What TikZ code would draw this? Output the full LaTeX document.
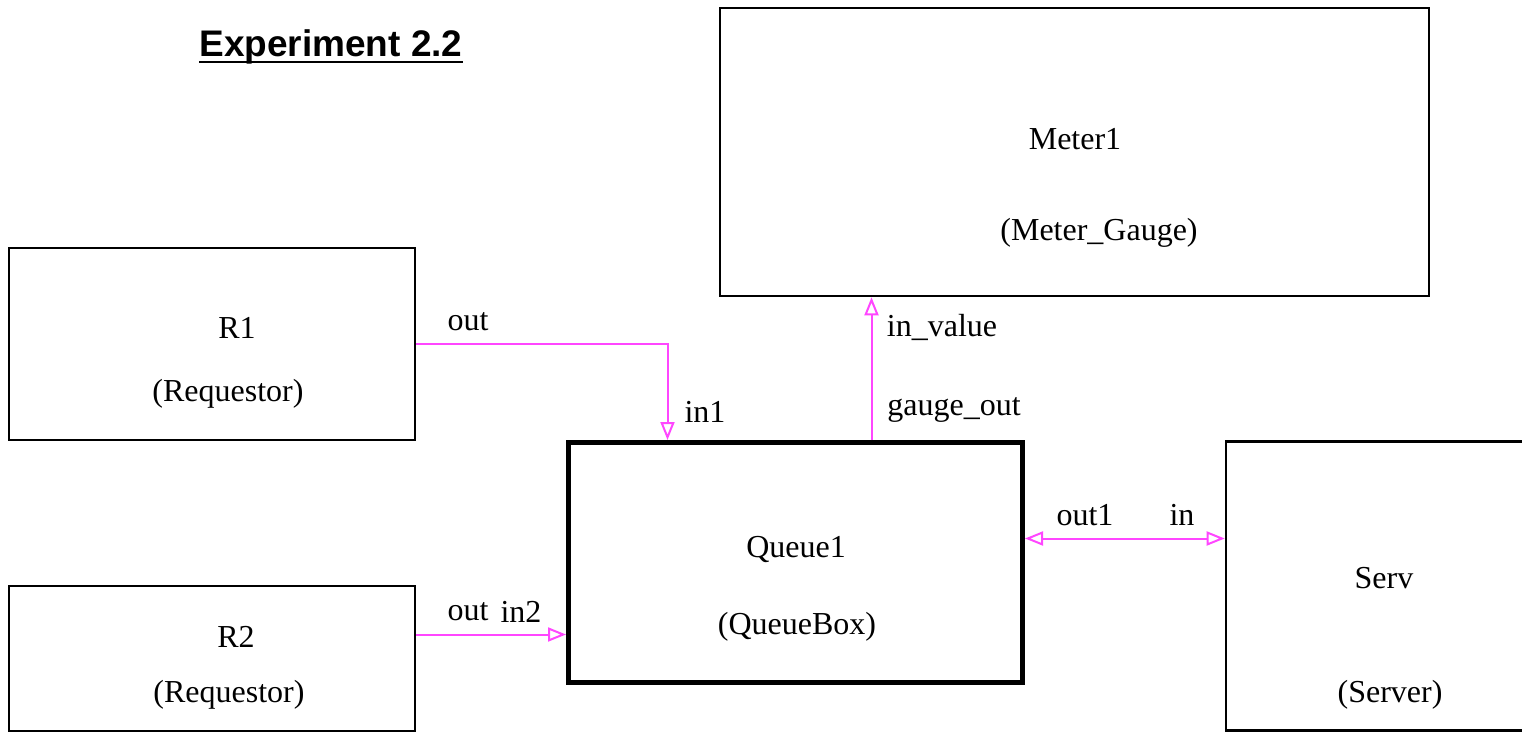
\documentclass[tikz,border=0pt]{standalone}
\usepackage{fontspec}
\setmainfont{Liberation Serif}
\newfontfamily\titlefont{Liberation Sans}
\usetikzlibrary{arrows.meta}
\definecolor{wirepink}{RGB}{255,70,255}

\begin{document}
\begin{tikzpicture}[x=1pt,y=1pt,
  block/.style={draw,line width=2.6pt,rectangle,inner sep=0pt},
  txt/.style={inner sep=0pt,font=\fontsize{32}{36}\selectfont},
  wire/.style={draw=wirepink,line width=2pt,-{Triangle[open,length=18pt,width=14pt]}}]
\useasboundingbox (0,0) rectangle (1522,732);

% title
\node[inner sep=0pt,anchor=base,font=\titlefont\bfseries\fontsize{37}{40}\selectfont] (title) at (331,675) {Experiment 2.2};
\draw[line width=2pt] ([yshift=-5pt]title.base west) -- ([yshift=-5pt]title.base east);

% blocks
\node[block,minimum width=406,minimum height=192] (r1) at (212,388) {};
\node[block,minimum width=406,minimum height=145] (r2) at (212,73.5) {};
\node[block,line width=5pt,minimum width=454,minimum height=240] (queue) at (795.5,169.5) {};
\node[block,minimum width=709,minimum height=288] (meter) at (1074.5,580) {};
\node[block,minimum width=340,minimum height=289] (serv) at (1396,146) {};

% block texts
\node[txt] (r1name) at (237,404) {R1};
\node[txt] (r1type) at (228,338) {(Requestor)};
\node[txt] (r2name) at (236,95) {R2};
\node[txt] (r2type) at (229,37) {(Requestor)};
\node[txt] (qname) at (796,183) {Queue1};
\node[txt] (qtype) at (797,105) {(QueueBox)};
\node[txt] (mname) at (1075,593) {Meter1};
\node[txt] (mtype) at (1099,499) {(Meter\_Gauge)};
\node[txt] (sname) at (1384,154) {Serv};
\node[txt] (stype) at (1390,37) {(Server)};

% port labels
\node[txt] (r1out) at (468,410) {out};
\node[txt] (qin1) at (705,320) {in1};
\node[txt] (qgauge) at (954,322) {gauge\_out};
\node[txt] (minval) at (942,405) {in\_value};
\node[txt] (qout1) at (1085,217) {out1};
\node[txt] (sin) at (1182,217) {in};
\node[txt] (r2out) at (468,120) {out};
\node[txt] (qin2) at (521,120) {in2};

% connections
\draw[wire] (r1.east) -| ([xshift=-128pt]queue.north);
\draw[wire] ([yshift=24pt]r2.east) -- ([yshift=24pt]r2.east -| queue.west);
\draw[wire] ([xshift=76pt]queue.north) -- ([xshift=76pt]queue.north |- meter.south);
\draw[wire,{Triangle[open,length=18pt,width=14pt]}-{Triangle[open,length=18pt,width=14pt]}] ([yshift=24pt]queue.east) -- ([yshift=24pt]queue.east -| serv.west);
\end{tikzpicture}
\end{document}
